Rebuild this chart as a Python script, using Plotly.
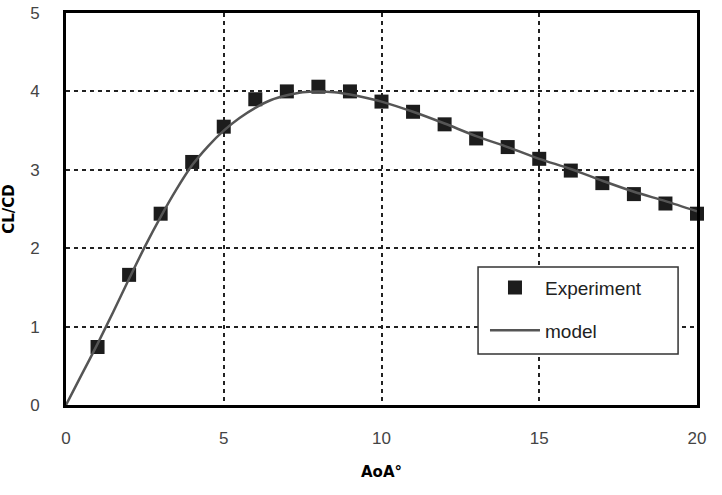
import plotly.graph_objects as go

# Experimental data
aoa_exp = [1, 2, 3, 4, 5, 6, 7, 8, 9, 10, 11, 12, 13, 14, 15, 16, 17, 18, 19, 20]
clcd_exp = [0.74, 1.66, 2.44, 3.10, 3.55, 3.90, 4.00, 4.06, 4.00, 3.87, 3.74, 3.58,
            3.40, 3.29, 3.14, 2.99, 2.83, 2.69, 2.57, 2.44]

# Model curve
aoa_model = [0, 0.5, 1, 1.5, 2, 2.5, 3, 3.5, 4, 4.5, 5, 5.5, 6, 6.5, 7, 7.5, 8, 8.5,
             9, 9.5, 10, 11, 12, 13, 14, 15, 16, 17, 18, 19, 20]
clcd_model = [0.0, 0.39, 0.78, 1.19, 1.61, 2.02, 2.40, 2.75, 3.06, 3.30, 3.50, 3.66,
              3.79, 3.89, 3.95, 3.99, 4.00, 3.99, 3.96, 3.92, 3.87, 3.74, 3.59, 3.43,
              3.29, 3.14, 3.01, 2.86, 2.72, 2.60, 2.47]

x_ticks = [0, 5, 10, 15, 20]
y_ticks = [0, 1, 2, 3, 4, 5]

fig = go.Figure()
fig.add_trace(go.Scatter(
    x=aoa_exp, y=clcd_exp, mode="markers", name="Experiment",
    marker=dict(symbol="square", size=14, color="#1c1c1c"),
    cliponaxis=False, legendgroup="a",
))
fig.add_trace(go.Scatter(
    x=aoa_model, y=clcd_model, mode="lines", name="model",
    line=dict(color="#555555", width=2.5, shape="spline", smoothing=0.8),
    cliponaxis=False, legendgroup="b",
))

tickfont = dict(family="Liberation Sans, Arial", size=17, color="#444444")
grid = dict(showgrid=True, gridcolor="#222222", gridwidth=1.5, griddash="4px,4px")
fig.update_layout(
    width=722, height=495,
    margin=dict(l=66, r=25, t=13, b=90),
    paper_bgcolor="white", plot_bgcolor="white",
    showlegend=True,
    legend=dict(
        x=0.664, y=0.348, xanchor="left", yanchor="top",
        bgcolor="rgba(0,0,0,0)", borderwidth=0,
        font=dict(family="Liberation Sans, Arial", size=19, color="#222222"),
        itemwidth=50, tracegroupgap=15,
    ),
    shapes=[dict(
        type="rect", xref="paper", yref="paper",
        x0=0.653, x1=0.970, y0=0.130, y1=0.352,
        fillcolor="white", line=dict(color="#333333", width=1.5), layer="above",
    )],
    xaxis=dict(
        range=[0, 20], tickvals=x_ticks, ticks="", tickfont=tickfont, automargin=False,
        showline=True, linecolor="black", linewidth=3, mirror=True,
        zeroline=False, ticklabelstandoff=16,
        title=dict(text="<b>AoA°</b>", font=dict(family="DejaVu Sans", size=15, color="black"), standoff=20),
        **grid,
    ),
    yaxis=dict(
        range=[0, 5], tickvals=y_ticks, ticks="", tickfont=tickfont, automargin=False,
        showline=True, linecolor="black", linewidth=3, mirror=True,
        zeroline=False, ticklabelstandoff=20,
        title=dict(text="<b>CL/CD</b>", font=dict(family="DejaVu Sans", size=15, color="black"), standoff=20),
        **grid,
    ),
)

fig.write_html("out.html")
